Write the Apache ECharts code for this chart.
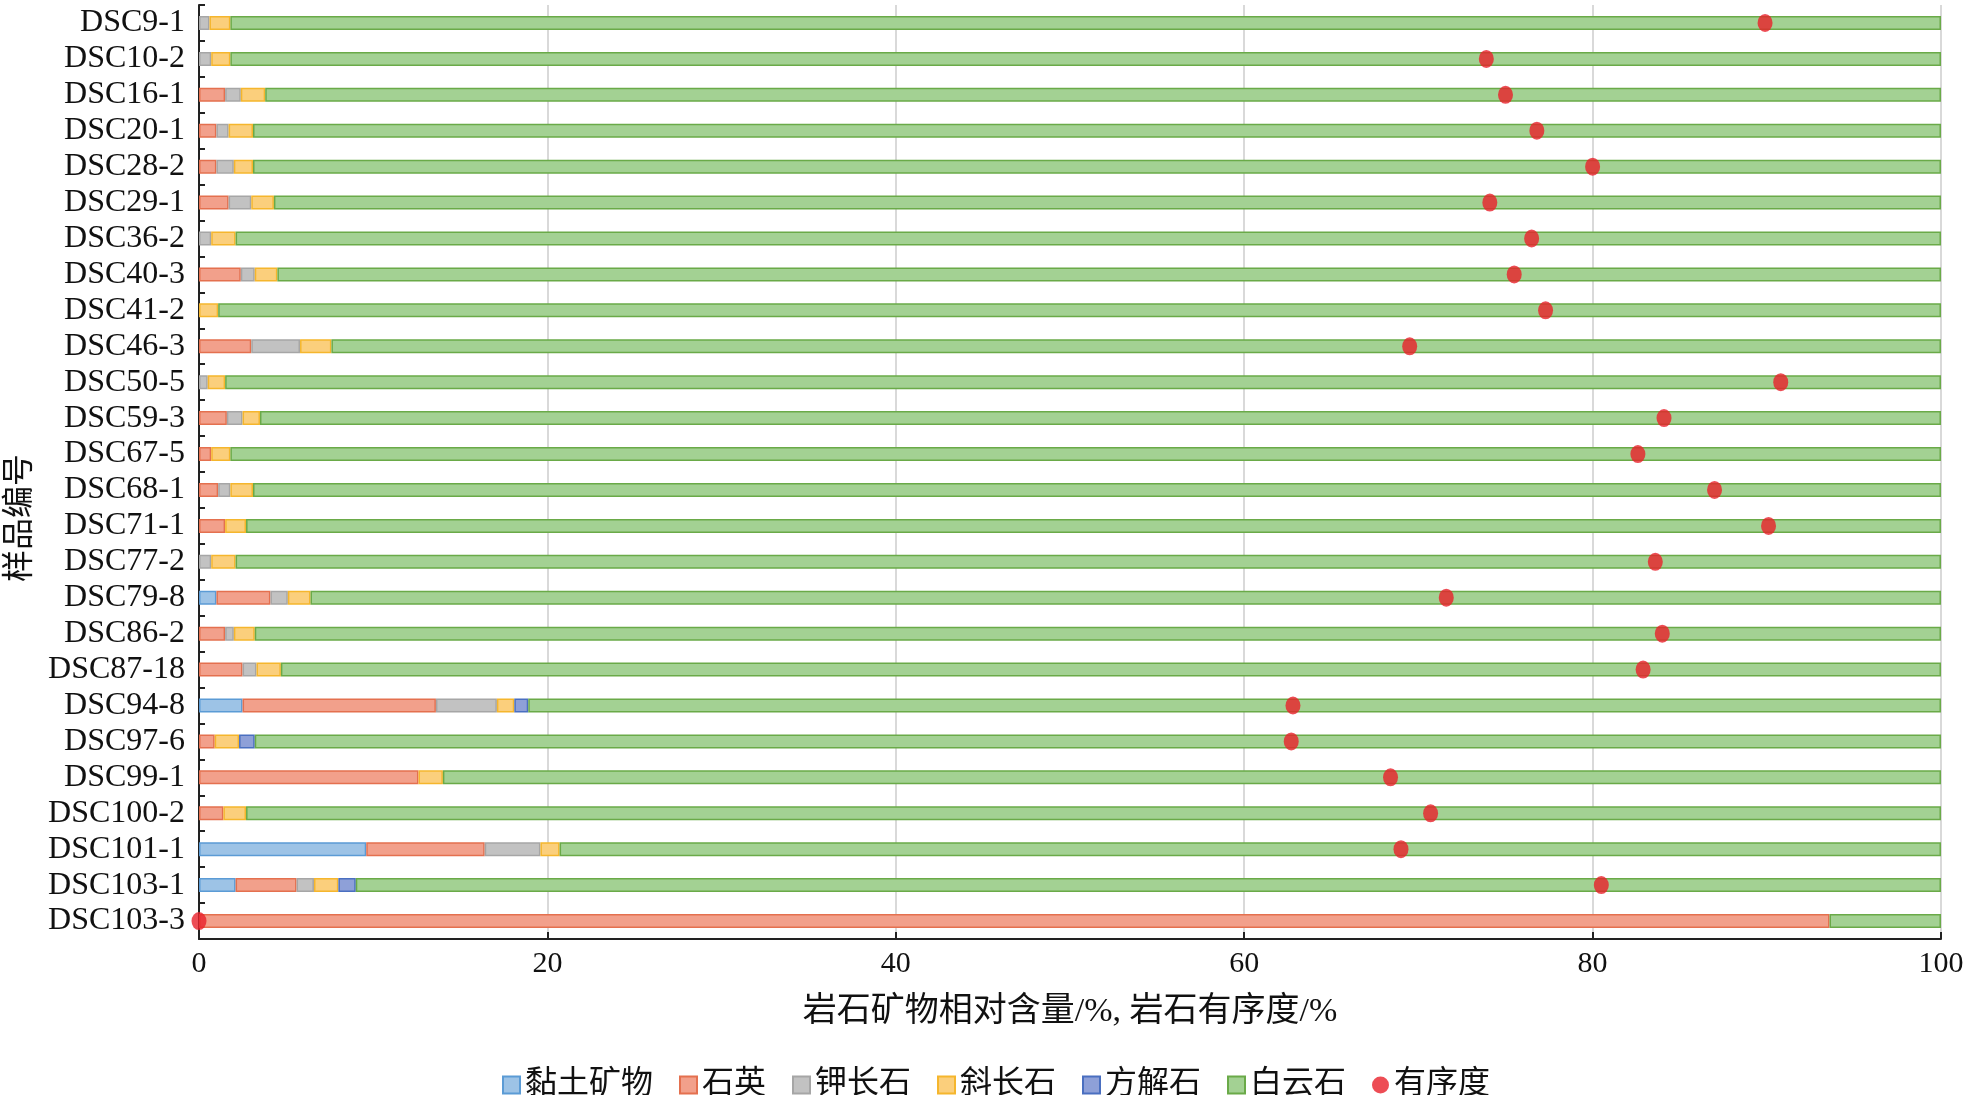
<!DOCTYPE html>
<html>
<head>
<meta charset="utf-8">
<script src="https://cdn.jsdelivr.net/npm/echarts@6/dist/echarts.min.js"></script>
<style>
html,body{margin:0;padding:0;background:#fff;}
#chart{width:1965px;height:1095px;}
</style>
</head>
<body>
<div id="chart"></div>
<script>
const categories = ['DSC9-1','DSC10-2','DSC16-1','DSC20-1','DSC28-2','DSC29-1','DSC36-2','DSC40-3','DSC41-2','DSC46-3','DSC50-5','DSC59-3','DSC67-5','DSC68-1','DSC71-1','DSC77-2','DSC79-8','DSC86-2','DSC87-18','DSC94-8','DSC97-6','DSC99-1','DSC100-2','DSC101-1','DSC103-1','DSC103-3'];
const clay     = [0,0,0,0,0,0,0,0,0,0,0,0,0,0,0,0,1.0,0,0,2.5,0,0,0,9.6,2.1,0];
const quartz   = [0,0,1.5,1.0,1.0,1.7,0,2.4,0,3.0,0,1.6,0.7,1.1,1.5,0,3.1,1.5,2.5,11.1,0.9,12.6,1.4,6.8,3.5,93.6];
const kfeld    = [0.6,0.7,0.9,0.7,1.0,1.3,0.7,0.8,0,2.8,0.5,0.9,0,0.7,0,0.7,1.0,0.5,0.8,3.5,0,0,0,3.2,1.0,0];
const plag     = [1.2,1.1,1.4,1.4,1.1,1.3,1.4,1.3,1.1,1.8,1.0,1.0,1.1,1.3,1.2,1.4,1.3,1.2,1.4,1.0,1.4,1.4,1.3,1.1,1.4,0];
const calcite  = [0,0,0,0,0,0,0,0,0,0,0,0,0,0,0,0,0,0,0,0.8,0.9,0,0,0,1.0,0];
const dolomite = [98.2,98.2,96.2,96.9,96.9,95.7,97.9,95.5,98.9,92.4,98.5,96.5,98.2,96.9,97.3,97.9,93.6,96.8,95.3,81.1,96.8,86.0,97.3,79.3,91.0,6.4];
const order    = [89.9,73.9,75.0,76.8,80.0,74.1,76.5,75.5,77.3,69.5,90.8,84.1,82.6,87.0,90.1,83.6,71.6,84.0,82.9,62.8,62.7,68.4,70.7,69.0,80.5,0];
const xTicks = [0,20,40,60,80,100];

const serif = "'Liberation Serif','Times New Roman','Noto Sans CJK SC',serif";
const cjk = "'Liberation Serif','Noto Sans CJK SC',serif";

const barDefs = [
  {name:'黏土矿物', data:clay,     fill:'#9dc3e6', border:'#5b9bd5'},
  {name:'石英',     data:quartz,   fill:'#f2a08b', border:'#e4704f'},
  {name:'钾长石',   data:kfeld,    fill:'#c2c2c2', border:'#a6a6a6'},
  {name:'斜长石',   data:plag,     fill:'#fbcf7c', border:'#f5b62d'},
  {name:'方解石',   data:calcite,  fill:'#8ea0d8', border:'#4a6fc0'},
  {name:'白云石',   data:dolomite, fill:'#a3d193', border:'#6aaa48'}
];

const series = barDefs.map(d => ({
  name: d.name,
  type: 'bar',
  stack: 'total',
  barWidth: 14,
  data: d.data.map(v => v > 0 ? v : null),
  itemStyle: {color: d.fill, borderColor: d.border, borderWidth: 1.5},
  emphasis: {disabled: true}
}));
series.push({
  name: '有序度',
  type: 'scatter',
  data: order,
  symbol: 'circle',
  symbolSize: [15, 18],
  itemStyle: {color: '#e8212b'},
  clip: false,
  z: 10
});

const chart = echarts.init(document.getElementById('chart'));
chart.setOption({
  animation: false,
  backgroundColor: '#fff',
  grid: {left: 199, right: 24, top: 5, bottom: 156, containLabel: false, outerBoundsMode: 'none'},
  legend: {
    left: 497, top: 1064,
    itemWidth: 17, itemHeight: 17, itemGap: 26,
    textStyle: {fontSize: 32, fontFamily: cjk, color: '#111'},
    data: barDefs.map(d => ({name: d.name, icon: 'rect'})).concat([{name:'有序度', icon:'circle'}])
  },
  xAxis: {
    type: 'value', min: xTicks[0], max: xTicks[xTicks.length-1], interval: 20,
    name: '岩石矿物相对含量/%, 岩石有序度/%',
    nameLocation: 'middle', nameGap: 56,
    nameTextStyle: {fontSize: 34, fontFamily: cjk, color: '#111'},
    axisLine: {show: true, lineStyle: {color: '#222', width: 2}},
    axisTick: {show: true, inside: true, length: 7, lineStyle: {color: '#222', width: 2}},
    axisLabel: {fontSize: 30, fontFamily: serif, color: '#111', margin: 10},
    splitLine: {show: true, lineStyle: {color: '#d9d9d9', width: 2}}
  },
  yAxis: {
    type: 'category', data: categories, inverse: true,
    name: '样品编号', nameLocation: 'middle', nameGap: 162, nameRotate: 90,
    nameTextStyle: {fontSize: 32, fontFamily: cjk, color: '#111', padding: [0, 92, 0, 0]},
    axisLine: {show: true, lineStyle: {color: '#222', width: 2}},
    axisTick: {show: true, inside: true, length: 6, interval: 0, lineStyle: {color: '#222', width: 2}},
    axisLabel: {fontSize: 32, fontFamily: serif, color: '#111', margin: 14, interval: 0},
    splitLine: {show: false}
  },
  series: series
});
</script>
</body>
</html>
